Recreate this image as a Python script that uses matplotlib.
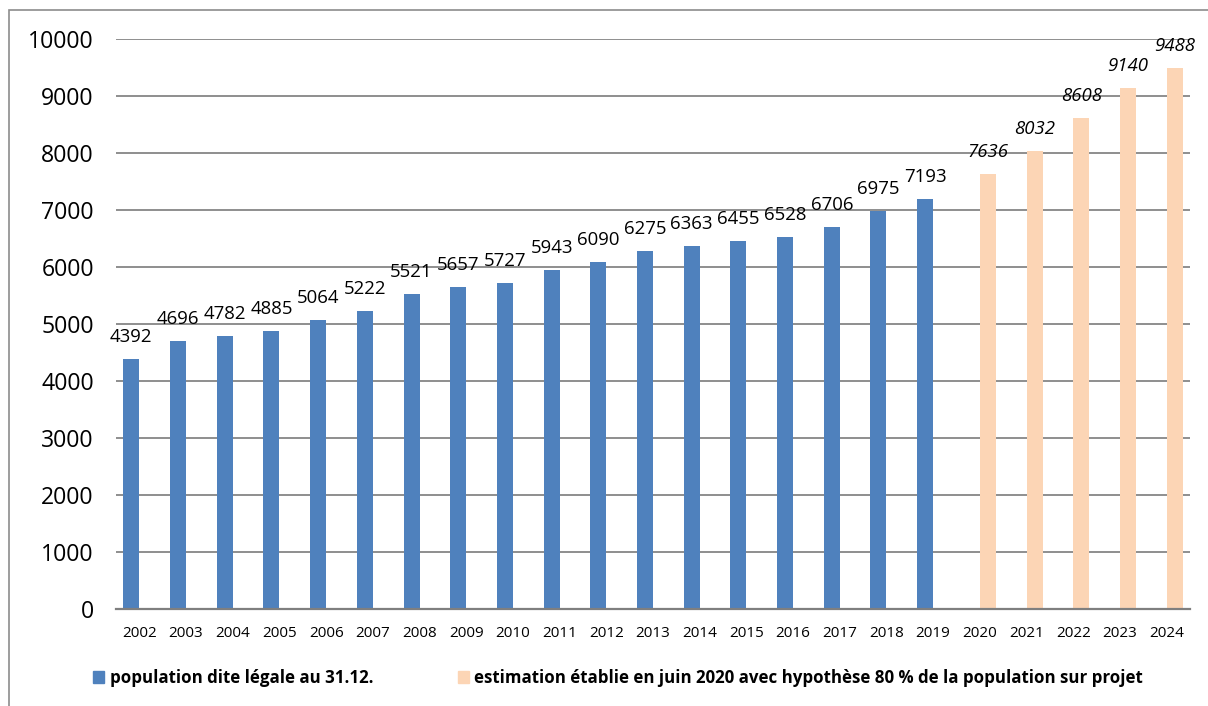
import matplotlib.pyplot as plt
from matplotlib.patches import Rectangle, Patch

years = [str(y) for y in range(2002, 2025)]
legal_years = years[:18]
legal_pop = [4392, 4696, 4782, 4885, 5064, 5222, 5521, 5657, 5727, 5943,
             6090, 6275, 6363, 6455, 6528, 6706, 6975, 7193]
est_years = years[18:]
est_pop = [7636, 8032, 8608, 9140, 9488]

blue = '#4F81BD'
peach = '#FCD5B5'
grid_grey = '#868686'

plt.rcParams['font.family'] = ['Open Sans', 'DejaVu Sans']

fig = plt.figure(figsize=(12.08, 7.06), dpi=100)
ax = fig.add_axes([116 / 1208, 1 - 609 / 706, 1074 / 1208, 570 / 706])

# outer frame of the chart object
fig.patches.append(Rectangle((8.5 / 1208, -0.05), 1.1, 1 - 10 / 706 + 0.05,
                             transform=fig.transFigure, fill=False,
                             edgecolor='#8c8c8c', linewidth=1.2))

width = 0.343
idx = {y: i for i, y in enumerate(years)}
xl = [idx[y] - width / 2 for y in legal_years]
xe = [idx[y] + width / 2 for y in est_years]

ax.bar(xl, legal_pop, width=width, color=blue, zorder=3)
ax.bar(xe, est_pop, width=width, color=peach, zorder=3)

for x, v in zip(xl, legal_pop):
    ax.annotate(str(v), (x, v), xytext=(0, 12.2), textcoords='offset points',
                ha='center', va='baseline', fontsize=13.4)
for x, v in zip(xe, est_pop):
    ax.annotate(str(v), (x, v), xytext=(0, 12.2), textcoords='offset points',
                ha='center', va='baseline', fontsize=13.4, style='italic')

ax.set_xlim(-0.5, len(years) - 0.5)
ax.set_ylim(0, 10000)
ax.set_yticks(range(0, 10001, 1000))
ax.set_xticks(range(len(years)))
ax.set_xticklabels(years)
ax.tick_params(axis='y', length=0, pad=16, labelsize=16.6)
ax.tick_params(axis='x', length=0, pad=12, labelsize=11)

ax.yaxis.grid(True, color=grid_grey, linewidth=1.3)
ax.set_axisbelow(True)
for s in ['top', 'right', 'left']:
    ax.spines[s].set_visible(False)
ax.spines['bottom'].set_color('#7f7f7f')
ax.spines['bottom'].set_linewidth(1.6)
ax.spines['bottom'].set_zorder(4)

handles = [Patch(color=blue, label='population dite légale au 31.12.'),
           Patch(color=peach, label='estimation établie en juin 2020 avec hypothèse 80 % de la population sur projet')]
fig.legend(handles=handles, loc='center', bbox_to_anchor=(618 / 1208, 1 - 678 / 706),
           ncol=2, frameon=False, prop={'weight': 'bold', 'size': 12.2},
           handlelength=0.65, handleheight=0.65, handletextpad=0.3, columnspacing=5.0)

fig.savefig('out.png', dpi=100)
